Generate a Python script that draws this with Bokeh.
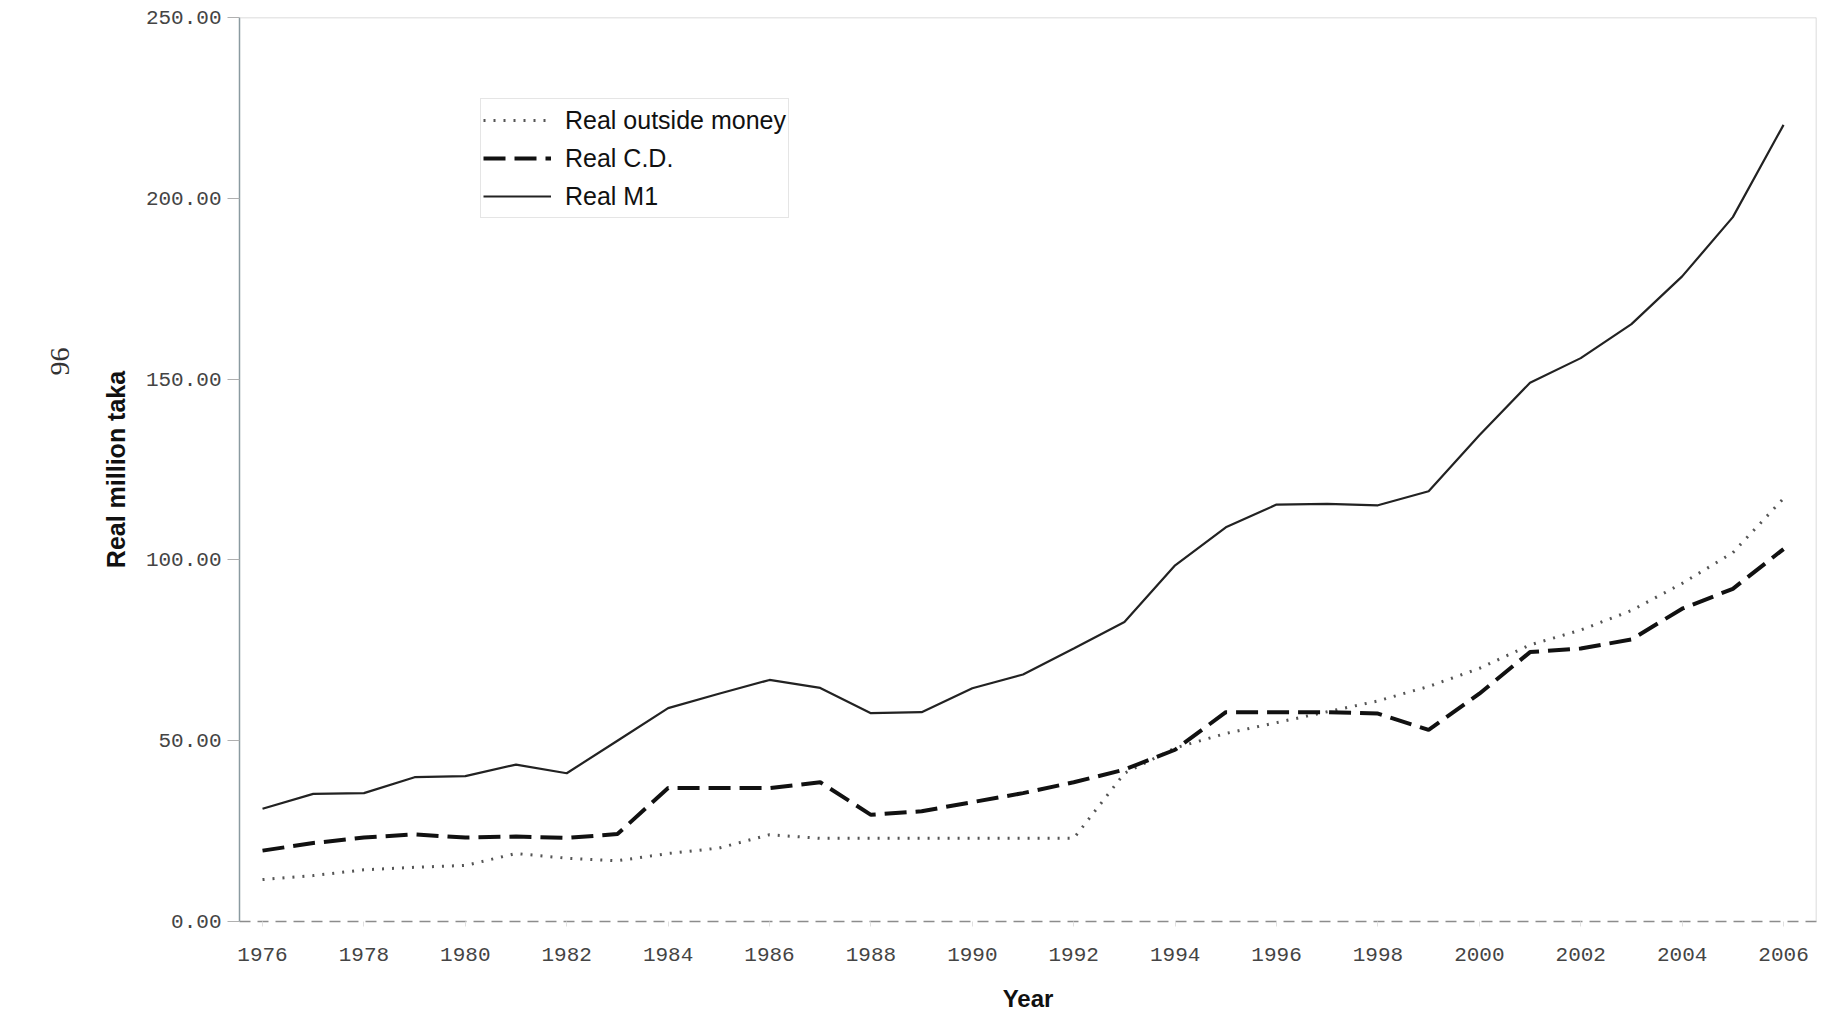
from bokeh.plotting import figure
from bokeh.models import (ColumnDataSource, FixedTicker, PrintfTickFormatter, Legend,
                          LegendItem, Span, Title)
from bokeh.embed import file_html
from bokeh.resources import INLINE

years = list(range(1976, 2007))
real_m1 = [31.2, 35.3, 35.5, 39.9, 40.2, 43.4, 41.0, 50.0, 59.0, 63.0, 66.8, 64.6,
           57.6, 57.9, 64.5, 68.3, 75.5, 82.8, 98.5, 109.0, 115.3, 115.5, 115.1,
           119.0, 134.5, 149.0, 155.8, 165.2, 178.4, 194.8, 220.3]
real_cd = [19.6, 21.7, 23.2, 24.1, 23.2, 23.5, 23.1, 24.2, 36.9, 36.9, 36.9, 38.5,
           29.5, 30.5, 33.0, 35.5, 38.5, 42.0, 47.5, 57.9, 57.9, 57.9, 57.5,
           53.0, 63.0, 74.5, 75.5, 78.0, 86.5, 92.0, 103.0]
real_outside = [11.6, 12.7, 14.3, 15.0, 15.5, 18.8, 17.5, 16.8, 18.8, 20.3, 24.0, 23.0,
                23.0, 23.0, 23.0, 23.0, 23.0, 41.0, 48.0, 52.0, 55.0, 58.0, 61.0,
                65.0, 70.0, 76.5, 80.6, 86.0, 93.5, 102.0, 117.0]
y_ticks = [0, 50, 100, 150, 200, 250]
x_ticks = list(range(1976, 2007, 2))

src = ColumnDataSource(dict(year=years, m1=real_m1, cd=real_cd, om=real_outside))

X_END = 2006.65
p = figure(width=1820, height=1015, output_backend="svg", toolbar_location=None,
           x_range=(1975.546, X_END), y_range=(0, 250),
           min_border_left=239, min_border_right=4, min_border_top=17,
           min_border_bottom=94)
p.outline_line_color = None
p.xgrid.visible = False
p.ygrid.visible = False
p.background_fill_color = "white"
p.border_fill_color = "white"

r_om = p.line("year", "om", source=src, line_color="#555555", line_width=3,
              line_dash="2 8")
r_cd = p.line("year", "cd", source=src, line_color="#111111", line_width=4,
              line_dash="22 9")
r_m1 = p.line("year", "m1", source=src, line_color="#222222", line_width=2.2)

# frame lines (top and right)
p.add_layout(Span(location=250, dimension="width", line_color="#cfcfcf", line_width=1.5))
p.add_layout(Span(location=X_END, dimension="height", line_color="#cfcfcf", line_width=1.5))

tick_font = "Liberation Mono"

yax = p.yaxis[0]
yax.ticker = FixedTicker(ticks=y_ticks)
yax.formatter = PrintfTickFormatter(format="%.2f")
yax.axis_line_color = "#8a9aa0"
yax.axis_line_width = 1.5
yax.major_tick_out = 12
yax.major_tick_in = 0
yax.major_tick_line_color = "#b0b0b0"
yax.minor_tick_line_color = None
yax.major_label_standoff = 6
yax.major_label_text_font = tick_font
yax.major_label_text_font_size = "21px"
yax.major_label_text_color = "#444444"
yax.axis_label = "Real million taka"
yax.axis_label_text_font = "Liberation Sans"
yax.axis_label_text_font_style = "bold"
yax.axis_label_text_font_size = "25px"
yax.axis_label_text_color = "#111111"
yax.axis_label_standoff = 13

xax = p.xaxis[0]
xax.ticker = FixedTicker(ticks=x_ticks)
xax.axis_line_color = "#8c8c8c"
xax.axis_line_width = 1.5
xax.axis_line_dash = "11 7"
xax.major_tick_out = 5
xax.major_tick_in = 0
xax.major_tick_line_color = "#e0e0e0"
xax.minor_tick_line_color = None
xax.major_label_standoff = 21
xax.major_label_text_font = tick_font
xax.major_label_text_font_size = "21px"
xax.major_label_text_color = "#444444"
xax.axis_label = "Year"
xax.axis_label_text_font = "Liberation Sans"
xax.axis_label_text_font_style = "bold"
xax.axis_label_text_font_size = "24px"
xax.axis_label_text_color = "#111111"
xax.axis_label_standoff = 21

legend = Legend(items=[
    LegendItem(label="Real outside money", renderers=[r_om]),
    LegendItem(label="Real C.D.", renderers=[r_cd]),
    LegendItem(label="Real M1", renderers=[r_m1]),
], location=(241, 703))
legend.label_text_font = "Liberation Sans"
legend.label_text_font_size = "25px"
legend.label_text_color = "#111111"
legend.border_line_color = "#cccccc"
legend.border_line_width = 1.5
legend.background_fill_alpha = 1.0
legend.glyph_width = 68
legend.glyph_height = 38
legend.label_height = 38
legend.label_standoff = 14
legend.spacing = 0
legend.padding = 2
legend.margin = 0
p.add_layout(legend, "center")

page_no = Title(text="96", align="right", offset=330, standoff=60,
                text_font="Liberation Serif", text_font_size="28px",
                text_font_style="normal", text_color="#333333")
p.add_layout(page_no, "left")

open("out.html", "w").write(file_html(p, INLINE))
